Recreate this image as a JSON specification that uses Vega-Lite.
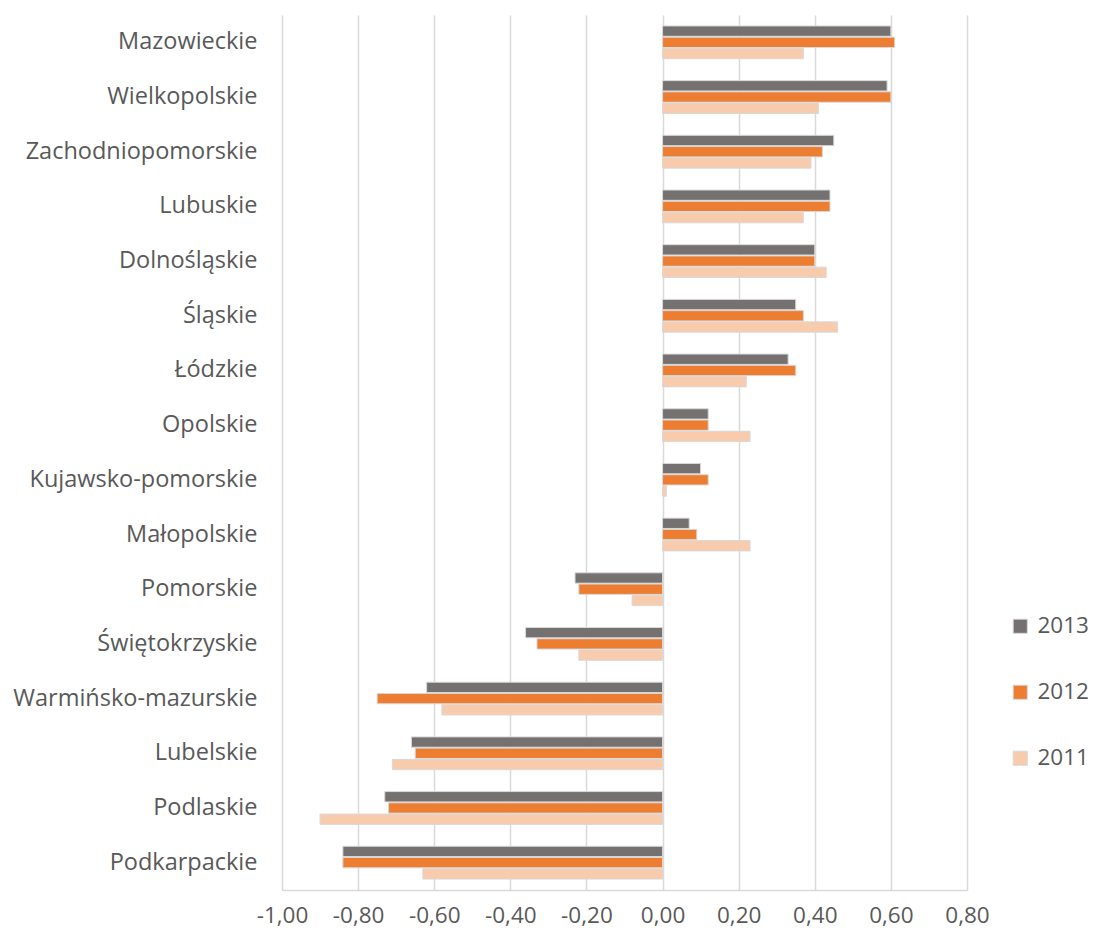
{
  "$schema": "https://vega.github.io/schema/vega-lite/v6.json",
  "autosize": {"type": "none"},
  "width": 685,
  "height": 875,
  "padding": {"left": 282, "top": 15, "right": 126, "bottom": 45},
  "background": "white",
  "config": {
    "view": {"stroke": null},
    "font": "Open Sans"
  },
  "data": {
    "values": [
      {"region": "Mazowieckie", "year": "2013", "value": 0.60},
      {"region": "Mazowieckie", "year": "2012", "value": 0.61},
      {"region": "Mazowieckie", "year": "2011", "value": 0.37},
      {"region": "Wielkopolskie", "year": "2013", "value": 0.59},
      {"region": "Wielkopolskie", "year": "2012", "value": 0.60},
      {"region": "Wielkopolskie", "year": "2011", "value": 0.41},
      {"region": "Zachodniopomorskie", "year": "2013", "value": 0.45},
      {"region": "Zachodniopomorskie", "year": "2012", "value": 0.42},
      {"region": "Zachodniopomorskie", "year": "2011", "value": 0.39},
      {"region": "Lubuskie", "year": "2013", "value": 0.44},
      {"region": "Lubuskie", "year": "2012", "value": 0.44},
      {"region": "Lubuskie", "year": "2011", "value": 0.37},
      {"region": "Dolnośląskie", "year": "2013", "value": 0.40},
      {"region": "Dolnośląskie", "year": "2012", "value": 0.40},
      {"region": "Dolnośląskie", "year": "2011", "value": 0.43},
      {"region": "Śląskie", "year": "2013", "value": 0.35},
      {"region": "Śląskie", "year": "2012", "value": 0.37},
      {"region": "Śląskie", "year": "2011", "value": 0.46},
      {"region": "Łódzkie", "year": "2013", "value": 0.33},
      {"region": "Łódzkie", "year": "2012", "value": 0.35},
      {"region": "Łódzkie", "year": "2011", "value": 0.22},
      {"region": "Opolskie", "year": "2013", "value": 0.12},
      {"region": "Opolskie", "year": "2012", "value": 0.12},
      {"region": "Opolskie", "year": "2011", "value": 0.23},
      {"region": "Kujawsko-pomorskie", "year": "2013", "value": 0.10},
      {"region": "Kujawsko-pomorskie", "year": "2012", "value": 0.12},
      {"region": "Kujawsko-pomorskie", "year": "2011", "value": 0.01},
      {"region": "Małopolskie", "year": "2013", "value": 0.07},
      {"region": "Małopolskie", "year": "2012", "value": 0.09},
      {"region": "Małopolskie", "year": "2011", "value": 0.23},
      {"region": "Pomorskie", "year": "2013", "value": -0.23},
      {"region": "Pomorskie", "year": "2012", "value": -0.22},
      {"region": "Pomorskie", "year": "2011", "value": -0.08},
      {"region": "Świętokrzyskie", "year": "2013", "value": -0.36},
      {"region": "Świętokrzyskie", "year": "2012", "value": -0.33},
      {"region": "Świętokrzyskie", "year": "2011", "value": -0.22},
      {"region": "Warmińsko-mazurskie", "year": "2013", "value": -0.62},
      {"region": "Warmińsko-mazurskie", "year": "2012", "value": -0.75},
      {"region": "Warmińsko-mazurskie", "year": "2011", "value": -0.58},
      {"region": "Lubelskie", "year": "2013", "value": -0.66},
      {"region": "Lubelskie", "year": "2012", "value": -0.65},
      {"region": "Lubelskie", "year": "2011", "value": -0.71},
      {"region": "Podlaskie", "year": "2013", "value": -0.73},
      {"region": "Podlaskie", "year": "2012", "value": -0.72},
      {"region": "Podlaskie", "year": "2011", "value": -0.90},
      {"region": "Podkarpackie", "year": "2013", "value": -0.84},
      {"region": "Podkarpackie", "year": "2012", "value": -0.84},
      {"region": "Podkarpackie", "year": "2011", "value": -0.63}
    ]
  },
  "mark": {"type": "bar", "stroke": "#d9d9d9", "strokeWidth": 1},
  "encoding": {
    "y": {
      "field": "region",
      "type": "nominal",
      "sort": null,
      "scale": {"paddingInner": 0.4, "paddingOuter": 0.2},
      "axis": {
        "title": null,
        "ticks": false,
        "domain": false,
        "labelFontSize": 23.5,
        "labelColor": "#595959",
        "labelPadding": 25,
        "labelLimit": 300
      }
    },
    "yOffset": {"field": "year", "type": "nominal", "sort": ["2013", "2012", "2011"], "scale": {"paddingInner": 0.08}},
    "x": {
      "field": "value",
      "type": "quantitative",
      "scale": {"domain": [-1, 0.8], "nice": false},
      "axis": {
        "title": null,
        "values": [-1, -0.8, -0.6, -0.4, -0.2, 0, 0.2, 0.4, 0.6, 0.8],
        "labelExpr": "replace(replace(format(datum.value, '.2f'), '.', ','), '−', '-')",
        "labelOverlap": false,
        "labelFlush": false,
        "ticks": false,
        "domain": true,
        "domainColor": "#d9d9d9",
        "domainWidth": 1.5,
        "grid": true,
        "gridColor": "#d9d9d9",
        "gridWidth": 1.5,
        "labelFontSize": 22.5,
        "labelColor": "#595959",
        "labelPadding": 14
      }
    },
    "color": {
      "field": "year",
      "type": "nominal",
      "sort": ["2013", "2012", "2011"],
      "scale": {"domain": ["2013", "2012", "2011"], "range": ["#757171", "#ed7d31", "#f8cbad"]},
      "legend": {
        "title": null,
        "orient": "none",
        "legendX": 727,
        "legendY": 600,
        "symbolType": "square",
        "symbolSize": 200,
        "symbolStrokeColor": "#d9d9d9",
        "symbolStrokeWidth": 1,
        "labelFontSize": 22.5,
        "labelColor": "#595959",
        "rowPadding": 43,
        "labelOffset": 6
      }
    }
  }
}
